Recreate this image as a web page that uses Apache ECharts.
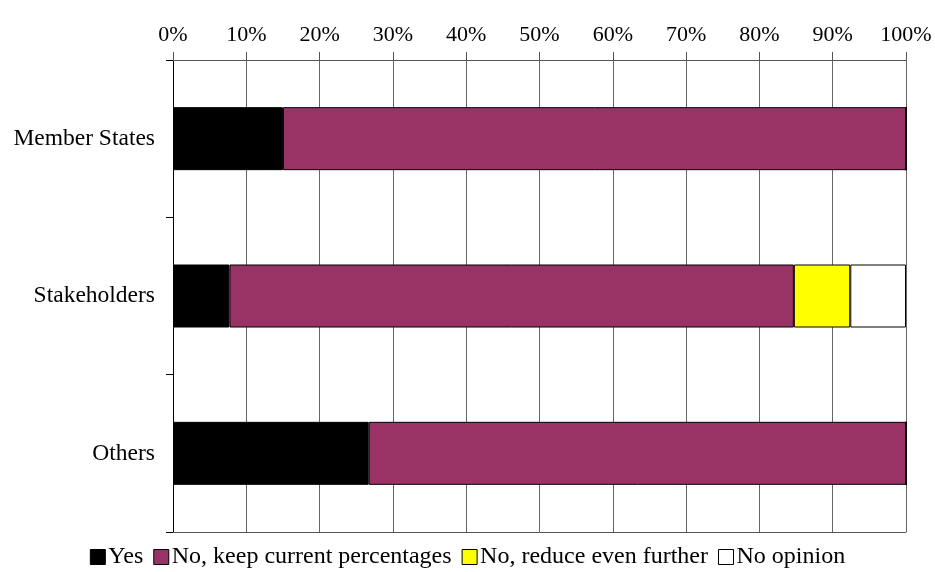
<!DOCTYPE html>
<html>
<head>
<meta charset="utf-8">
<script src="https://cdn.jsdelivr.net/npm/echarts@6/dist/echarts.min.js"></script>
<style>
  html, body { margin: 0; padding: 0; background: #fff; }
  #chart { width: 935px; height: 572px; }
</style>
</head>
<body>
<div id="chart"></div>
<script>
// categories (top to bottom)
const categories = ['Member States', 'Stakeholders', 'Others']
// shares in percent
const yes = [15, 7.7, 26.7]
const keepCurrent = [85, 77, 73.3]
const reduceFurther = [0, 7.7, 0]
const noOpinion = [0, 7.6, 0]

const font = 'Liberation Serif, Times New Roman, serif'

const chart = echarts.init(document.getElementById('chart'))

function bar(name, data, color) {
  return {
    name: name,
    type: 'bar',
    stack: 'total',
    barWidth: 63,
    data: data,
    itemStyle: { color: color, borderColor: '#000', borderWidth: 1 }
  }
}

const option = {
  animation: false,
  grid: { left: 173, right: 29, top: 60, bottom: 40 },
  legend: {
    bottom: -2,
    left: 'center',
    itemWidth: 15,
    itemHeight: 15,
    itemGap: 10,
    icon: 'rect',
    textStyle: { fontFamily: font, fontSize: 24, color: '#000', padding: [0, 0, 0, -2] },
    itemStyle: { borderColor: '#000', borderWidth: 1 },
    data: ['Yes', 'No, keep current percentages', 'No, reduce even further', 'No opinion']
  },
  xAxis: [
    {
      type: 'value',
      position: 'top',
      min: 0,
      max: 100,
      interval: 10,
      axisLine: { show: true, lineStyle: { color: '#555', width: 1 } },
      axisTick: { show: true, length: 8, lineStyle: { color: '#555' } },
      axisLabel: { formatter: '{value}%', fontFamily: font, fontSize: 22, color: '#000', margin: 14 },
      splitLine: { show: true, lineStyle: { color: '#666', width: 1 } }
    },
    {
      type: 'value',
      position: 'bottom',
      min: 0,
      max: 100,
      interval: 10,
      axisLine: { show: true, lineStyle: { color: '#555', width: 1 } },
      axisTick: { show: false },
      axisLabel: { show: false },
      splitLine: { show: false }
    }
  ],
  yAxis: {
    type: 'category',
    inverse: true,
    data: categories,
    axisLine: { show: true, lineStyle: { color: '#000', width: 1 } },
    axisTick: { show: true, length: 7, lineStyle: { color: '#000' } },
    axisLabel: { fontFamily: font, fontSize: 23.5, color: '#000', margin: 18 }
  },
  series: [
    bar('Yes', yes, '#000000'),
    bar('No, keep current percentages', keepCurrent, '#993366'),
    bar('No, reduce even further', reduceFurther, '#ffff00'),
    bar('No opinion', noOpinion, '#ffffff')
  ]
}

chart.setOption(option)
</script>
</body>
</html>
